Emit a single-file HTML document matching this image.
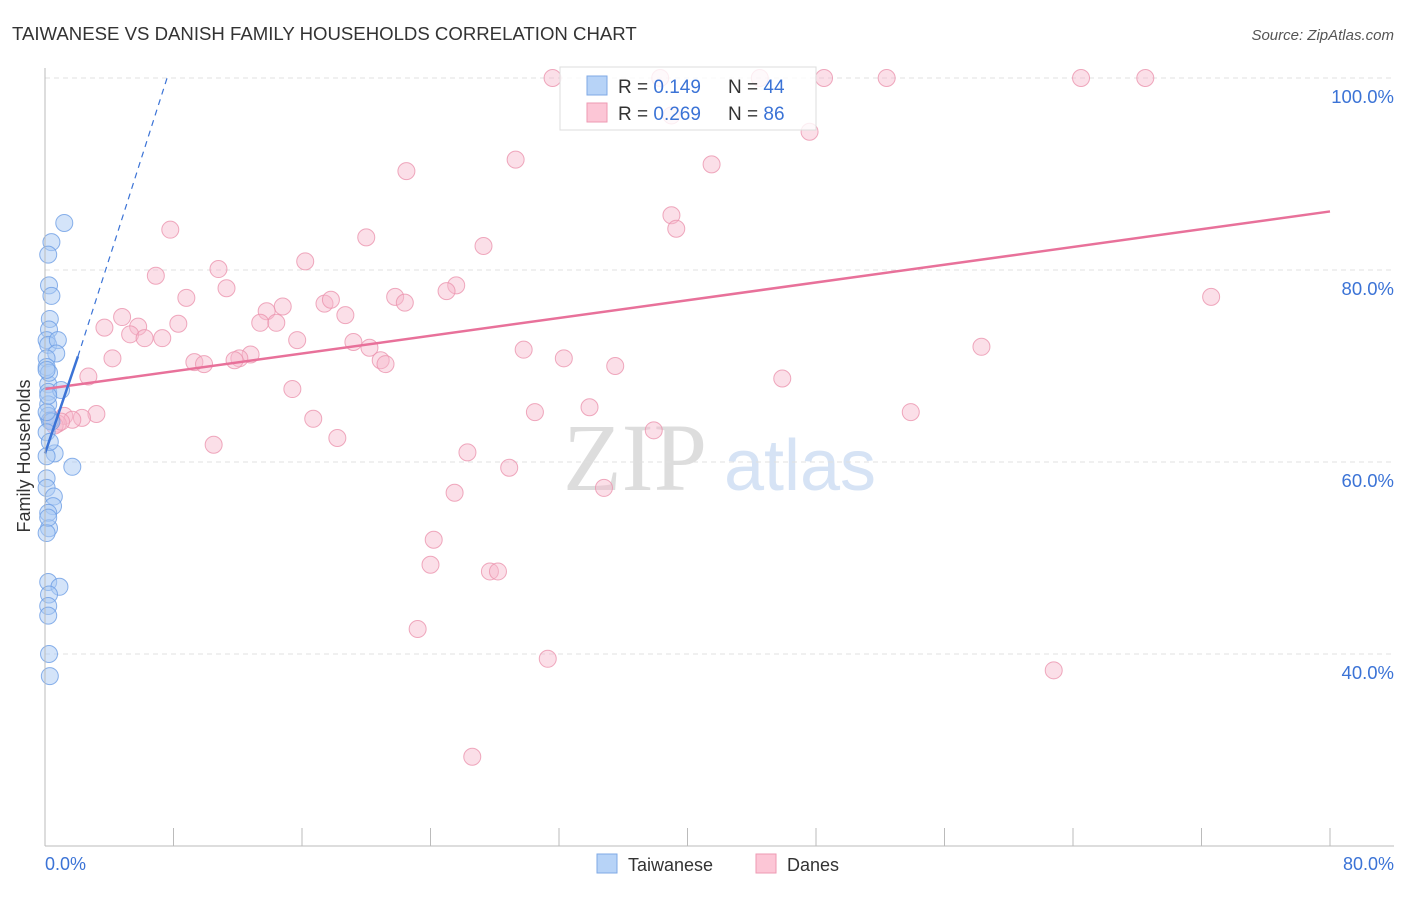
<!DOCTYPE html>
<html><head><meta charset="utf-8"><style>
body{margin:0;background:#fff;font-family:"Liberation Sans",sans-serif}
</style></head><body>
<svg id="c" width="1406" height="892" xmlns="http://www.w3.org/2000/svg">
<text x="12" y="40" font-size="18.6" fill="#333">TAIWANESE VS DANISH FAMILY HOUSEHOLDS CORRELATION CHART</text>
<text x="1394" y="40" font-size="15" fill="#555" font-style="italic" text-anchor="end">Source: ZipAtlas.com</text>
<text x="635" y="490" font-size="96" fill="#ddd" font-family="Liberation Serif" text-anchor="middle">ZIP</text>
<text x="800" y="490" font-size="72" fill="#d6e3f5" text-anchor="middle">atlas</text>
<g id="grid"></g><g id="pts"></g><g id="lines"></g>
<line x1="45" y1="68" x2="45" y2="846" stroke="#bbb"/>
<line x1="45" y1="846" x2="1394" y2="846" stroke="#bbb"/>
<text x="30" y="456" font-size="18" fill="#333" text-anchor="middle" transform="rotate(-90 30 456)">Family Households</text>
<text x="45" y="870" font-size="18" fill="#3b73d6">0.0%</text>
<text x="1394" y="870" font-size="18" fill="#3b73d6" text-anchor="end">80.0%</text>
<g>
<rect x="560" y="67" width="256" height="63" fill="#fff" fill-opacity="0.8" stroke="#ddd"/>
<rect x="587" y="76" width="20" height="19" fill="#b7d3f7" stroke="#7fa9e6"/>
<rect x="587" y="103" width="20" height="19" fill="#fcc6d6" stroke="#ee9ab3"/>
<text x="618" y="93" font-size="19" fill="#333">R = <tspan fill="#3b73d6">0.149</tspan></text>
<text x="728" y="93" font-size="19" fill="#333">N = <tspan fill="#3b73d6">44</tspan></text>
<text x="618" y="120" font-size="19" fill="#333">R = <tspan fill="#3b73d6">0.269</tspan></text>
<text x="728" y="120" font-size="19" fill="#333">N = <tspan fill="#3b73d6">86</tspan></text>
</g>
<g>
<rect x="597" y="854" width="20" height="19" fill="#b7d3f7" stroke="#7fa9e6"/>
<text x="628" y="871" font-size="18" fill="#333">Taiwanese</text>
<rect x="756" y="854" width="20" height="19" fill="#fcc6d6" stroke="#ee9ab3"/>
<text x="787" y="871" font-size="18" fill="#333">Danes</text>
</g>
</svg>
<script>
const yTicks=[40,60,80,100];
const xTicks=[8,16,24,32,40,48,56,64,72,80];
const blueX=[1.2,0.4,0.2,0.25,0.4,0.3,0.25,0.1,0.2,0.8,0.7,0.1,0.1,0.2,0.2,1.0,0.2,0.2,0.3,0.4,0.6,0.1,1.7,0.1,0.1,0.55,0.5,0.2,0.25,0.1,0.2,0.9,0.25,0.2,0.2,0.25,0.3,0.1,0.1,0.3,0.2,0.25,0.1,0.2];
const blueY=[84.9,82.9,81.6,78.4,77.3,74.9,73.8,72.7,72.2,72.7,71.3,70.8,69.9,68.1,67.3,67.5,66.0,64.8,64.3,64.2,60.9,60.6,59.5,58.3,57.3,56.4,55.4,54.7,53.1,52.6,47.5,47.0,46.2,45.0,44.0,40.0,37.7,65.2,63.1,62.1,66.9,69.3,69.6,54.2];
const pinkX=[31.6,38.3,44.5,48.5,52.4,64.5,68.5,47.6,29.3,22.5,41.5,39.0,39.3,7.8,20.0,27.3,16.2,10.8,6.9,11.3,25.6,25.0,8.8,21.8,22.4,17.4,17.8,14.8,13.8,18.7,4.8,72.6,3.7,5.8,8.3,13.4,14.4,5.3,6.2,7.3,15.7,19.2,20.2,58.3,29.8,4.2,32.3,12.8,12.1,11.8,9.3,9.9,20.9,21.2,35.5,45.9,2.7,15.4,3.2,2.3,30.5,33.9,53.9,16.7,1.2,1.7,0.8,0.6,37.9,18.2,10.5,26.3,28.9,25.5,34.8,24.2,24.0,27.7,28.2,23.2,31.3,62.8,26.6,1.0,0.4,39.0];
const pinkY=[100,100,100,100,100,100,100,94.4,91.5,90.3,91.0,85.7,84.3,84.2,83.4,82.5,80.9,80.1,79.4,78.1,78.4,77.8,77.1,77.2,76.6,76.5,76.9,76.2,75.7,75.3,75.1,77.2,74.0,74.1,74.4,74.5,74.5,73.3,72.9,72.9,72.7,72.5,71.9,72.0,71.7,70.8,70.8,71.2,70.8,70.6,70.4,70.2,70.6,70.2,70.0,68.7,68.9,67.6,65.0,64.6,65.2,65.7,65.2,64.5,64.8,64.4,64.0,63.8,63.3,62.5,61.8,61.0,59.4,56.8,57.3,51.9,49.3,48.6,48.6,42.6,39.5,38.3,29.3,64.2,64.4,96.1];
const X=v=>45+v*1285/80, Y=v=>78+(100-v)*9.6;
const NS='http://www.w3.org/2000/svg';
function mk(t,a,p){const e=document.createElementNS(NS,t);for(const k in a)e.setAttribute(k,a[k]);p.appendChild(e);return e;}
const g=document.getElementById('grid');
yTicks.forEach(t=>{const l=mk('line',{x1:45,x2:1394,y1:Y(t),y2:Y(t),stroke:'#e0e0e0','stroke-dasharray':'5,4'},g);


const tx=mk('text',{x:1394,y:Y(t)+25,'font-size':18.5,fill:'#3b73d6','text-anchor':'end'},g);tx.textContent=t.toFixed(1)+'%';

});
xTicks.forEach(t=>{const l=mk('line',{x1:X(t),x2:X(t),y1:828,y2:846,stroke:'#bbb'},g);

});
const p=document.getElementById('pts');
pinkX.forEach((v,i)=>{const c=mk('circle',{cx:X(v),cy:Y(pinkY[i]),r:8.5,fill:'#f7b8cb','fill-opacity':0.45,stroke:'#eb93ae','stroke-opacity':0.8},p);

});
blueX.forEach((v,i)=>{const c=mk('circle',{cx:X(v),cy:Y(blueY[i]),r:8.5,fill:'#a9c9f3','fill-opacity':0.5,stroke:'#6d9ee5','stroke-opacity':0.8},p);

});
const L=document.getElementById('lines');
let e=mk('line',{x1:X(0),y1:Y(67.6),x2:X(80),y2:Y(86.1),stroke:'#e8719a','stroke-width':2.5},L);


e=mk('line',{x1:X(2.05),y1:Y(71.0),x2:X(7.6),y2:Y(100),stroke:'#3b73d6','stroke-width':1.2,'stroke-dasharray':'6,5'},L);


e=mk('line',{x1:X(0),y1:Y(60.9),x2:X(2.05),y2:Y(71.0),stroke:'#3b73d6','stroke-width':2.5},L);


</script>
</body></html>
